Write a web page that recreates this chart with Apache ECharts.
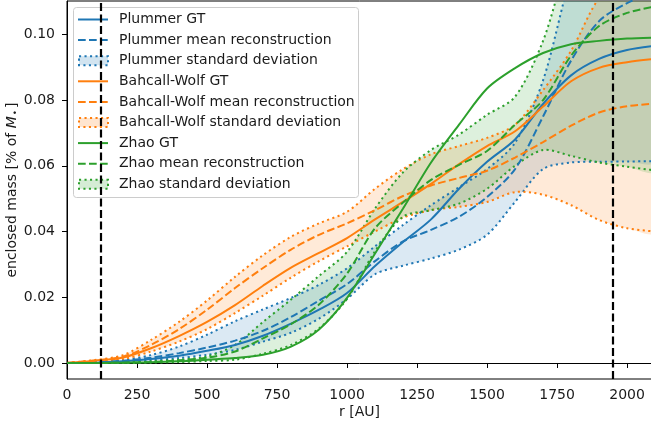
<!DOCTYPE html>
<html lang="en">
<head>
    <meta charset="UTF-8">
    <title>enclosed mass</title>
    <script src="https://cdn.jsdelivr.net/npm/echarts@6/dist/echarts.min.js"></script>
    <style>
        html, body { margin: 0; background: #fff; }
        #main { width: 651px; height: 432px; }
    </style>
</head>
<body>
<div id="main"></div>
<script>
    // radius samples [AU]
    var R = [0, 100, 200, 300, 400, 500, 600, 700, 800, 900, 1000,
             1100, 1200, 1300, 1400, 1500, 1600, 1700, 1800, 1900, 2000, 2100];

    // Plummer
    var plummerGT   = [0, 0.0001, 0.0005, 0.0012, 0.0022, 0.0037, 0.0055, 0.0083, 0.012, 0.0162, 0.0213,
                       0.0295, 0.0368, 0.0437, 0.053, 0.0612, 0.068, 0.0788, 0.0875, 0.0925, 0.0952, 0.0965];
    var plummerMean = [0, 0.0002, 0.0007, 0.0016, 0.003, 0.0047, 0.0068, 0.0098, 0.014, 0.019, 0.024,
                       0.031, 0.037, 0.0405, 0.0445, 0.0505, 0.059, 0.075, 0.092, 0.104, 0.1095, 0.113];
    var plummerLo   = [0, 0.0001, 0.0003, 0.0008, 0.0015, 0.0025, 0.004, 0.0065, 0.0092, 0.0135, 0.0195,
                       0.027, 0.0296, 0.0318, 0.0345, 0.039, 0.049, 0.059, 0.061, 0.0612, 0.0613, 0.0614];
    var plummerHi   = [0, 0.0003, 0.0009, 0.0024, 0.005, 0.0086, 0.0127, 0.0163, 0.0198, 0.0238, 0.0288,
                       0.0355, 0.042, 0.048, 0.0535, 0.059, 0.067, 0.086, 0.118, 0.14, 0.15, 0.155];

    // Bahcall-Wolf
    var bwGT   = [0, 0.0007, 0.0017, 0.0045, 0.0082, 0.0125, 0.0176, 0.0235, 0.029, 0.0335, 0.038,
                  0.0437, 0.049, 0.0545, 0.0605, 0.066, 0.0705, 0.078, 0.0857, 0.0898, 0.0915, 0.0925];
    var bwMean = [0, 0.0008, 0.0019, 0.0055, 0.0103, 0.0162, 0.0228, 0.0289, 0.0345, 0.039, 0.0425,
                  0.0465, 0.0508, 0.054, 0.0563, 0.0585, 0.0625, 0.0672, 0.0722, 0.0762, 0.0781, 0.0789];
    var bwLo   = [0, 0.0006, 0.0012, 0.0035, 0.0065, 0.0103, 0.0152, 0.0205, 0.026, 0.031, 0.0355,
                  0.040, 0.0442, 0.0465, 0.0475, 0.049, 0.052, 0.0512, 0.048, 0.0435, 0.041, 0.040];
    var bwHi   = [0, 0.0009, 0.0024, 0.007, 0.0125, 0.019, 0.0262, 0.0328, 0.0384, 0.0425, 0.046,
                  0.053, 0.059, 0.0635, 0.066, 0.0685, 0.0725, 0.083, 0.095, 0.111, 0.118, 0.122];

    // Zhao
    var zhaoGT   = [0, 0, 0.0001, 0.0002, 0.0005, 0.001, 0.0015, 0.0025, 0.005, 0.0102, 0.0198,
                    0.0333, 0.047, 0.061, 0.0725, 0.0835, 0.0897, 0.0943, 0.097, 0.098, 0.0987, 0.099];
    var zhaoMean = [0, 0, 0.0001, 0.0003, 0.0008, 0.0016, 0.0035, 0.0075, 0.0118, 0.0178, 0.0272,
                    0.041, 0.0488, 0.0557, 0.0603, 0.0645, 0.0725, 0.080, 0.0935, 0.1025, 0.1065, 0.1085];
    var zhaoLo   = [0, 0, 0, 0.0001, 0.0003, 0.0006, 0.001, 0.0028, 0.0055, 0.0105, 0.0195,
                    0.034, 0.0445, 0.0465, 0.0485, 0.053, 0.060, 0.0648, 0.063, 0.061, 0.0597, 0.0586];
    var zhaoHi   = [0, 0, 0.0002, 0.0005, 0.001, 0.002, 0.0055, 0.0125, 0.0193, 0.0265, 0.0338,
                    0.047, 0.058, 0.0648, 0.0695, 0.0755, 0.081, 0.098, 0.125, 0.14, 0.15, 0.155];

    // reference radii (dashed black lines)
    var vlines = [120, 1950];

    var xTicks = [0, 250, 500, 750, 1000, 1250, 1500, 1750, 2000];
    var yTicks = [0, 0.02, 0.04, 0.06, 0.08, 0.10];

    var BLUE = '#1f77b4', ORANGE = '#ff7f0e', GREEN = '#2ca02c';
    var DASH = [7.7, 3.3], DOT = [2.1, 3.4];
    var SM = 0.3;
    var FONT = 'DejaVu Sans';
    var FS = 14;
    var TXT = '#1a1a1a';

    var models = [
        { name: 'Plummer', color: BLUE, gt: plummerGT, mean: plummerMean, lo: plummerLo, hi: plummerHi },
        { name: 'Bahcall-Wolf', color: ORANGE, gt: bwGT, mean: bwMean, lo: bwLo, hi: bwHi },
        { name: 'Zhao', color: GREEN, gt: zhaoGT, mean: zhaoMean, lo: zhaoLo, hi: zhaoHi }
    ];

    function pts(ys) {
        return R.map(function (r, i) { return [r, ys[i]]; });
    }
    function clipRect(params) {
        var c = params.coordSys;
        return { type: 'rect', shape: { x: c.x, y: c.y, width: c.width, height: c.height } };
    }

    var series = [];

    // shaded std bands, all below the lines
    models.forEach(function (m) {
        series.push({
            type: 'custom', name: m.name + ' standard deviation', z: 1, silent: true, animation: false,
            data: [[0, 0]],
            renderItem: function (params, api) {
                var up = R.map(function (r, i) { return api.coord([r, m.hi[i]]); });
                var dn = R.map(function (r, i) { return api.coord([r, m.lo[i]]); }).reverse();
                return {
                    type: 'polygon', clipPath: clipRect(params),
                    shape: { points: up.concat(dn), smooth: SM },
                    style: { fill: m.color, opacity: 0.16 }
                };
            }
        });
    });

    models.forEach(function (m) {
        series.push({
            type: 'line', name: m.name + ' GT', data: pts(m.gt), z: 3, showSymbol: false, symbol: 'none',
            smooth: SM, silent: true, animation: false, color: m.color,
            lineStyle: { color: m.color, width: 2 }
        });
        series.push({
            type: 'line', name: m.name + ' mean reconstruction', data: pts(m.mean), z: 3, showSymbol: false,
            symbol: 'none', smooth: SM, silent: true, animation: false, color: m.color,
            lineStyle: { color: m.color, width: 2, type: DASH }
        });
        // dotted bounds drawn with the same smoothing as the band
        series.push({
            type: 'custom', name: m.name + ' bounds', z: 3, silent: true, animation: false,
            data: [[0, 0]],
            renderItem: function (params, api) {
                var make = function (ys) {
                    return {
                        type: 'polyline',
                        shape: { points: R.map(function (r, i) { return api.coord([r, ys[i]]); }), smooth: SM },
                        style: { stroke: m.color, lineWidth: 2, lineDash: DOT, fill: null }
                    };
                };
                return { type: 'group', clipPath: clipRect(params), children: [make(m.lo), make(m.hi)] };
            }
        });
    });

    series.push({
        type: 'line', name: 'refs', data: [], silent: true, animation: false, z: 5,
        markLine: {
            silent: true, animation: false, symbol: ['none', 'none'], label: { show: false },
            lineStyle: { color: '#000', width: 2.2, type: [8, 3.5] },
            data: vlines.map(function (v) { return { xAxis: v }; })
        }
    });

    // legend drawn by hand: line / band handles like the source figure
    var legendItems = [];
    models.forEach(function (m) {
        legendItems.push({ text: m.name + ' GT', color: m.color, kind: 'solid' });
        legendItems.push({ text: m.name + ' mean reconstruction', color: m.color, kind: 'dash' });
        legendItems.push({ text: m.name + ' standard deviation', color: m.color, kind: 'band' });
    });
    var legendChildren = [{
        type: 'rect', shape: { x: 0.5, y: 0.5, width: 285, height: 190, r: 3 },
        style: { fill: 'rgba(255,255,255,0.8)', stroke: '#cccccc', lineWidth: 1 }
    }];
    legendItems.forEach(function (it, i) {
        var cy = 12.5 + 20.6 * i;
        if (it.kind === 'band') {
            legendChildren.push({
                type: 'rect', shape: { x: 6, y: cy - 4.5, width: 29, height: 9 },
                style: { fill: echarts.color.modifyAlpha(it.color, 0.2), stroke: it.color, lineWidth: 2, lineDash: DOT }
            });
        } else {
            legendChildren.push({
                type: 'line', shape: { x1: 5, y1: cy, x2: 35, y2: cy },
                style: { stroke: it.color, lineWidth: 2, lineDash: it.kind === 'dash' ? DASH : null }
            });
        }
        legendChildren.push({
            type: 'text', x: 46, y: cy,
            style: { text: it.text, fill: TXT, fontFamily: FONT, fontSize: FS, verticalAlign: 'middle' }
        });
    });

    var chart = echarts.init(document.getElementById('main'), null, { renderer: 'canvas' });
    chart.setOption({
        animation: false,
        textStyle: { fontFamily: FONT },
        grid: {
            left: 67, right: -1, top: 1, bottom: 53, containLabel: false, outerBoundsMode: 'none',
            show: true, borderColor: '#000', borderWidth: 1
        },
        graphic: [{ type: 'group', left: 73, top: 7, z: 100, children: legendChildren }],
        xAxis: {
            type: 'value', min: 0, max: 2089,
            name: 'r [AU]', nameLocation: 'middle', nameGap: 26, nameMoveOverlap: false,
            nameTextStyle: { fontFamily: FONT, fontSize: FS, color: TXT },
            axisLine: { show: true, lineStyle: { color: '#000', width: 1 } },
            axisTick: { show: true, length: 5, customValues: xTicks, lineStyle: { color: '#000' } },
            axisLabel: { customValues: xTicks, margin: 9, fontFamily: FONT, fontSize: FS, color: TXT,
                formatter: function (v) { return String(v); } },
            splitLine: { show: false }
        },
        yAxis: {
            type: 'value', min: -0.00487, max: 0.11013,
            name: 'enclosed mass [% of {i|M}{s|•}]', nameLocation: 'middle', nameGap: 47, nameMoveOverlap: false,
            nameTextStyle: {
                fontFamily: FONT, fontSize: FS, color: TXT,
                rich: {
                    i: { fontFamily: FONT, fontSize: FS, fontStyle: 'italic', color: TXT },
                    s: { fontFamily: FONT, fontSize: 9, color: TXT, padding: [7, 2, 0, 1] }
                }
            },
            axisLine: { show: true, lineStyle: { color: '#000', width: 1 } },
            axisTick: { show: true, length: 5, customValues: yTicks, lineStyle: { color: '#000' } },
            axisLabel: { customValues: yTicks, margin: 12, fontFamily: FONT, fontSize: FS, color: TXT,
                formatter: function (v) { return v.toFixed(2); } },
            splitLine: { show: false }
        },
        series: series
    });
</script>
</body>
</html>
